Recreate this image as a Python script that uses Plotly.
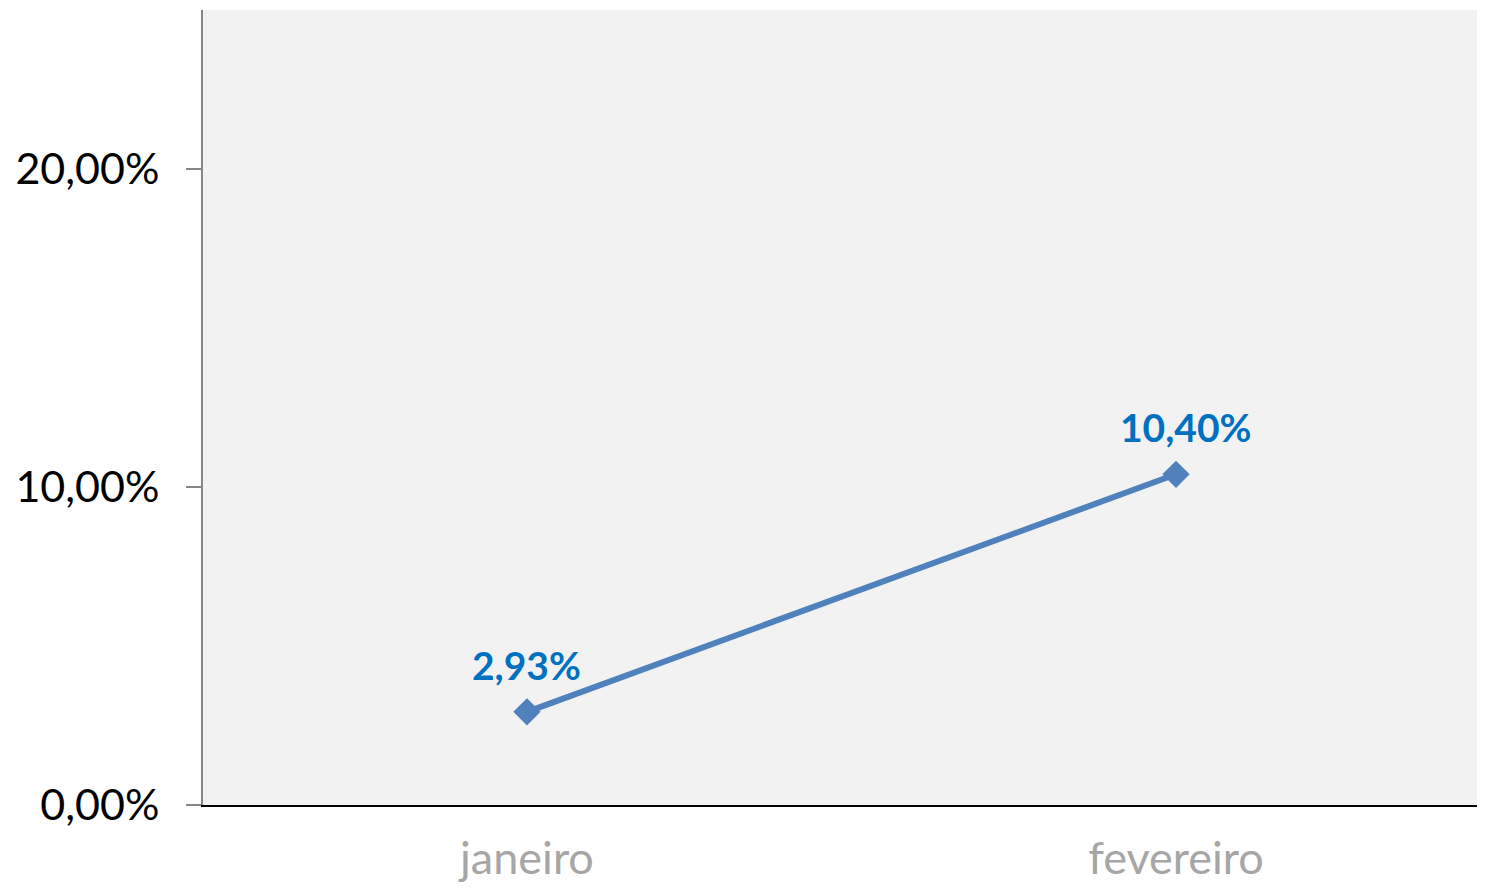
import plotly.graph_objects as go

categories = ["janeiro", "fevereiro"]
values = [0.0293, 0.1040]
label_xshift = [0, 10]

fig = go.Figure()
fig.add_trace(go.Scatter(
    x=categories, y=values, mode="lines+markers",
    line=dict(color="#4F81BD", width=6),
    marker=dict(symbol="diamond", size=21, color="#4F81BD"),
    showlegend=False, hoverinfo="skip",
))

for c, v, xs in zip(categories, values, label_xshift):
    fig.add_annotation(
        x=c, y=v, text=f"{v*100:.2f}%".replace(".", ","), showarrow=False,
        yshift=47, xshift=xs,
        font=dict(family="Lato", size=39, color="#0070C0", weight="bold"),
    )

fig.update_layout(
    width=1469, height=875,
    margin=dict(l=195, r=0, t=2, b=78),
    paper_bgcolor="white", plot_bgcolor="#F2F2F2",
    separators=",.",
    font=dict(family="Lato"),
)
fig.update_xaxes(
    type="category", range=[-0.4992, 1.4638],
    showgrid=False, zeroline=False, automargin=False,
    showline=True, linecolor="#000000", linewidth=2,
    ticks="", tickfont=dict(size=45, color="#A6A6A6"),
    ticklabelstandoff=13,
)
fig.update_yaxes(
    range=[0, 0.25], tickvals=[0, 0.1, 0.2], tickformat=".2%",
    showgrid=False, zeroline=False, automargin=False,
    showline=True, linecolor="#868686", linewidth=2,
    ticks="outside", ticklen=15, tickcolor="#868686", tickwidth=2,
    tickfont=dict(size=43, color="#000000"),
    ticklabelstandoff=18,
)

fig.write_html("out.html")
